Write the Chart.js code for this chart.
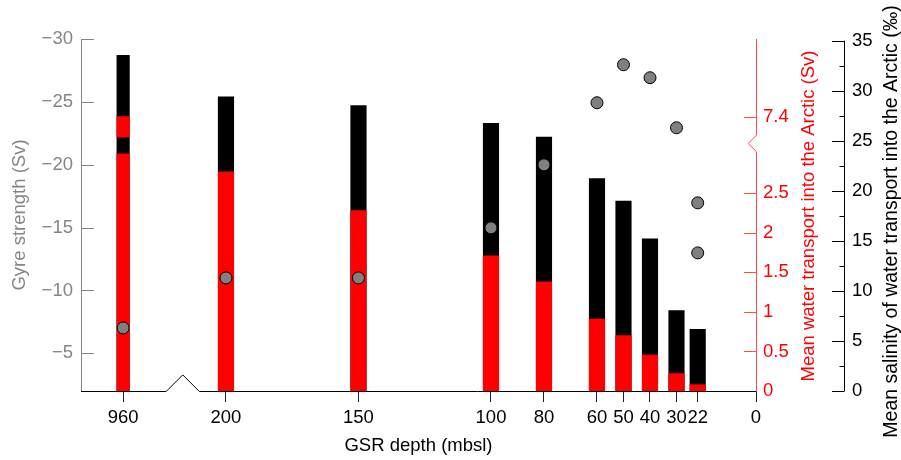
<!DOCTYPE html>
<html><head><meta charset="utf-8">
<script src="https://cdn.jsdelivr.net/npm/chart.js"></script>
<style>html,body{margin:0;padding:0;background:#fff;} canvas{display:block;}</style>
</head><body>
<canvas id="c" width="901" height="460"></canvas>
<script>
// ---------- data ----------
const DEPTHS = [960, 200, 150, 100, 80, 60, 50, 40, 30, 22];
const GYRE = [-28.7, -25.4, -24.7, -23.3, -22.2, -18.9, -17.1, -14.1, -8.4, -6.9];
const TRANSPORT = [7.4, 2.77, 2.28, 1.71, 1.38, 0.91, 0.70, 0.455, 0.22, 0.08];
const SAL_DEPTHS = [960, 200, 150, 100, 80, 60, 50, 40, 30, 22, 22];
const SALINITY = [6.3, 11.3, 11.3, 16.3, 22.6, 28.8, 32.6, 31.3, 26.3, 18.8, 13.8];
const X_TICKS = [960, 200, 150, 100, 80, 60, 50, 40, 30, 22, 0];
const GYRE_TICKS = [-30, -25, -20, -15, -10, -5];
const TRANSPORT_TICKS = [0, 0.5, 1, 1.5, 2, 2.5, 7.4];
const SALINITY_TICKS = [0, 5, 10, 15, 20, 25, 30, 35];

// ---------- broken-axis transforms ----------
const X_BREAK = 200;         // depths deeper than this sit beyond the x-axis break
const X_DEEP_SLOT = 238.8;   // axis position used for depths beyond the break
const X_BREAK_MARK = 216.3;  // where the break symbol is drawn
const X_MAX = 254.7;
function xPos(d) { return d > X_BREAK ? X_DEEP_SLOT : d; }

const T_BREAK = 3.0;         // transport axis is broken above this value
const T_GAP = 0.21;          // gap (axis units) left at the break
const T_SHIFT = 3.93;        // values above the break are shifted down by this
const T_BREAK_MARK = 3.13;
const T_MAX = 4.451;
function tDisp(v) { return v <= T_BREAK ? v : v - T_SHIFT; }

const GRAY = '#858585';
const RED = '#ff0000';
const RED_LINE = '#ff4a4a';
const FONT = "'Liberation Sans', Arial, Helvetica, sans-serif";

Chart.defaults.font.family = FONT;
Chart.defaults.font.size = 18.5;

// ---------- datasets ----------
const ids = DEPTHS.map((d, i) => i);
const groups = [
  { ids: ids.filter(i => DEPTHS[i] > X_BREAK), thick: 12.5 },
  { ids: ids.filter(i => DEPTHS[i] <= X_BREAK), thick: 15.5 }
];
const barBase = { type: 'bar', grouped: false, clip: 0, borderWidth: 0 };
const datasets = [];
groups.forEach(g => {
  datasets.push(Object.assign({}, barBase, {
    label: 'Gyre strength', yAxisID: 'yG', order: 3, barThickness: g.thick,
    backgroundColor: '#000',
    data: g.ids.map(i => ({ x: xPos(DEPTHS[i]), y: GYRE[i] }))
  }));
  datasets.push(Object.assign({}, barBase, {
    label: 'Transport', yAxisID: 'yT', order: 2, barThickness: g.thick,
    backgroundColor: RED,
    data: g.ids.map(i => ({ x: xPos(DEPTHS[i]), y: [0, Math.min(TRANSPORT[i], T_BREAK)] }))
  }));
  const up = g.ids.filter(i => TRANSPORT[i] > T_BREAK);
  if (up.length) {
    datasets.push(Object.assign({}, barBase, {
      label: 'Transport (above break)', yAxisID: 'yT', order: 2, barThickness: g.thick,
      backgroundColor: RED,
      data: up.map(i => ({ x: xPos(DEPTHS[i]), y: [T_BREAK + T_GAP, tDisp(TRANSPORT[i])] }))
    }));
  }
});
datasets.push({
  type: 'scatter', label: 'Salinity', yAxisID: 'yS', order: 1, showLine: false, clip: false,
  pointRadius: 6, pointBorderWidth: 1,
  backgroundColor: '#808080', borderColor: '#000',
  pointBackgroundColor: '#808080', pointBorderColor: '#000',
  data: SAL_DEPTHS.map((d, i) => ({ x: xPos(d), y: SALINITY[i] }))
});

// ---------- axis decorations (inward ticks, breaks, right-hand titles) ----------
const axisDecor = {
  id: 'axisDecor',
  afterDraw(chart) {
    const { ctx, chartArea: a, scales: { x, yG, yT, yS } } = chart;
    const r = v => Math.round(v) + 0.5;
    const seg = (x1, y1, x2, y2) => { ctx.beginPath(); ctx.moveTo(x1, y1); ctx.lineTo(x2, y2); ctx.stroke(); };
    ctx.save();
    ctx.lineWidth = 1;

    // left gray axis
    ctx.strokeStyle = GRAY;
    const lx = r(a.left);
    seg(lx, a.top, lx, a.bottom);
    yG.ticks.forEach(t => { const y = r(yG.getPixelForValue(t.value)); seg(lx, y, lx + 12.5, y); });

    // red transport axis with break
    const rx = r(a.right);
    const yb = yT.getPixelForValue(T_BREAK_MARK);
    ctx.strokeStyle = RED_LINE;
    ctx.beginPath();
    ctx.moveTo(rx, a.top); ctx.lineTo(rx, yb - 8.3); ctx.lineTo(rx - 8.3, yb);
    ctx.lineTo(rx, yb + 8.3); ctx.lineTo(rx, a.bottom);
    ctx.stroke();
    yT.ticks.forEach(t => { const y = r(yT.getPixelForValue(t.value)); seg(rx - 12.5, y, rx, y); });

    // black salinity axis with minor ticks
    const sx = r(yS.left);
    ctx.strokeStyle = '#000';
    seg(sx, yS.getPixelForValue(SALINITY_TICKS[SALINITY_TICKS.length - 1]), sx, yS.getPixelForValue(SALINITY_TICKS[0]));
    SALINITY_TICKS.forEach((v, i) => {
      const y = r(yS.getPixelForValue(v)); seg(sx - 12.5, y, sx, y);
      if (i < SALINITY_TICKS.length - 1) {
        const ym = r(yS.getPixelForValue((v + SALINITY_TICKS[i + 1]) / 2)); seg(sx - 5, ym, sx, ym);
      }
    });

    // x baseline with break symbol
    const by = r(a.bottom);
    const bx = x.getPixelForValue(X_BREAK_MARK);
    ctx.strokeStyle = '#000';
    ctx.beginPath();
    ctx.moveTo(a.left, by); ctx.lineTo(bx - 16.6, by); ctx.lineTo(bx, by - 16.6);
    ctx.lineTo(bx + 16.6, by); ctx.lineTo(a.right, by);
    ctx.stroke();

    // right-hand titles (read bottom to top)
    const midY = (a.top + a.bottom) / 2;
    ctx.textAlign = 'center'; ctx.textBaseline = 'middle';
    ctx.save();
    ctx.translate(yT.left + 53, midY + 1); ctx.rotate(-Math.PI / 2);
    ctx.fillStyle = RED; ctx.font = '18.5px ' + FONT;
    ctx.fillText('Mean water transport into the Arctic (Sv)', 0, 0);
    ctx.restore();
    ctx.save();
    ctx.translate(yS.left + 48, midY + 6.5); ctx.rotate(-Math.PI / 2);
    ctx.fillStyle = '#000'; ctx.font = '19.5px ' + FONT;
    ctx.fillText('Mean salinity of water transport into the Arctic (\u2030)', 0, 0);
    ctx.restore();

    ctx.restore();
  }
};

new Chart(document.getElementById('c'), {
  type: 'bar',
  data: { datasets },
  plugins: [axisDecor],
  options: {
    responsive: false,
    animation: false,
    events: [],
    layout: { padding: { top: 39, left: 0, right: 0, bottom: 0 } },
    plugins: { legend: { display: false }, tooltip: { enabled: false } },
    scales: {
      x: {
        type: 'linear', min: 0, max: X_MAX, reverse: true, offset: false, bounds: 'data',
        grid: { display: true, drawOnChartArea: false, offset: false, drawTicks: true, tickLength: 11, color: '#222' },
        border: { display: false },
        ticks: { autoSkip: false, maxRotation: 0, minRotation: 0, padding: 5, color: '#000',
                 callback: (v, i) => String(X_TICKS[i]) },
        afterBuildTicks: s => { s.ticks = X_TICKS.map(d => ({ value: xPos(d) })); },
        afterFit: s => { s.height = 69; },
        title: { display: true, text: 'GSR depth (mbsl)', color: '#000', padding: { top: 0, bottom: 3 } }
      },
      yG: {
        type: 'linear', position: 'left', min: -30, max: -2, reverse: true, bounds: 'data',
        grid: { display: false, drawTicks: false },
        border: { display: false },
        ticks: { padding: 8, color: GRAY, callback: v => '\u2212' + Math.abs(v) },
        afterBuildTicks: s => { s.ticks = GYRE_TICKS.map(v => ({ value: v })); },
        afterFit: s => { s.width = 81; },
        title: { display: true, text: 'Gyre strength (Sv)', color: GRAY, padding: { top: 9, bottom: 0 } }
      },
      yT: {
        type: 'linear', position: 'right', weight: 1, min: 0, max: T_MAX, bounds: 'data',
        grid: { display: false, drawTicks: false },
        border: { display: false },
        ticks: { padding: 7, color: RED, callback: (v, i) => String(TRANSPORT_TICKS[i]) },
        afterBuildTicks: s => { s.ticks = TRANSPORT_TICKS.map(v => ({ value: tDisp(v) })); },
        afterFit: s => { s.width = 88; }
      },
      yS: {
        type: 'linear', position: 'right', weight: 2, min: 0, max: 35.17, bounds: 'data',
        grid: { display: false, drawTicks: false },
        border: { display: false },
        ticks: { padding: 8, color: '#000' },
        afterBuildTicks: s => { s.ticks = SALINITY_TICKS.map(v => ({ value: v })); },
        afterFit: s => { s.width = 57; }
      }
    }
  }
});
</script>
</body></html>
